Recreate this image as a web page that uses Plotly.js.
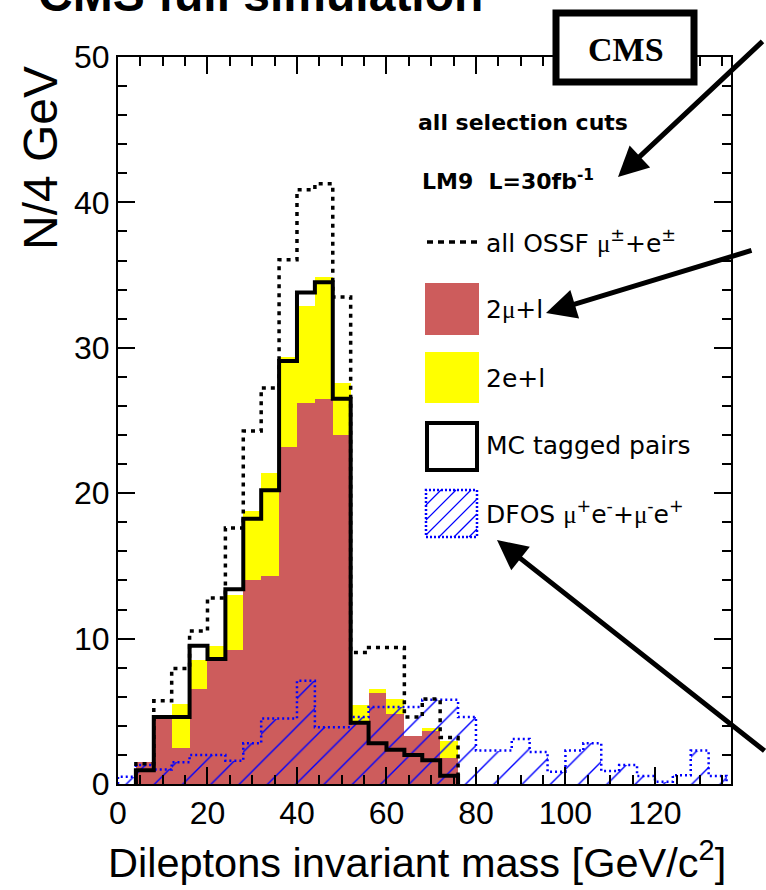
<!DOCTYPE html>
<html>
<head>
<meta charset="utf-8">
<script src="https://cdn.plot.ly/plotly-3.0.1.min.js"></script>
<style>html,body{margin:0;padding:0;background:#fff;}#chart{width:766px;height:890px;}</style>
</head>
<body>
<div id="chart"></div>
<script>
// ---- data (4 GeV bins, low edges) ----
const binWidth = 4;
const massLow = [0,4,8,12,16,20,24,28,32,36,40,44,48,52,56,60,64,68,72,76,80,84,88,92,96,100,104,108,112,116,120,124,128,132];
const twoMu   = [0,1.5,4.6,2.5,6.5,8.6,9.2,14.0,14.3,23.2,26.2,26.5,24.0,4.1,6.25,4.8,3.3,3.66,1.8,0,0,0,0,0,0,0,0,0,0,0,0,0,0,0];
const twoE    = [0,0,0,3.0,2.0,0.9,3.8,4.8,7.1,6.2,6.7,8.4,3.6,1.35,0.27,1.07,0,0.22,1.18,0,0,0,0,0,0,0,0,0,0,0,0,0,0,0];
const mcTagged= [0,0.95,4.6,4.6,9.5,8.6,13.4,18.25,20.2,29.1,33.8,34.5,26.5,4.22,2.8,2.35,2.0,1.63,0.57,0,0,0,0,0,0,0,0,0,0,0,0,0,0,0];
const allOSSF = [0,1.4,5.72,7.94,10.53,12.8,17.6,24.27,27.24,36.06,40.87,41.28,33.5,9.04,9.38,9.38,4.6,5.84,3.2,0,0,0,0,0,0,0,0,0,0,0,0,0,0,0];
const dfos    = [0.5,1.3,1.0,1.5,2.0,2.0,1.6,2.8,4.5,4.5,7.1,3.9,3.9,4.6,5.3,5.3,5.3,5.8,5.8,4.6,2.3,2.3,3.1,2.2,0.85,2.3,2.8,0.9,1.3,0.55,0.15,0.6,2.3,0.55];
const xTicks  = [0,20,40,60,80,100,120];
const yTicks  = [0,10,20,30,40,50];

// ---- helpers ----
function stepXY(vals){
  let first = vals.findIndex(v => v !== 0);
  let last = vals.length - 1;
  while (last > 0 && vals[last] === 0) last--;
  const xs = [massLow[first]], ys = [0];
  for (let i = first; i <= last; i++){ xs.push(massLow[i]); ys.push(vals[i]); }
  xs.push(massLow[last] + binWidth); ys.push(0);
  return {x: xs, y: ys};
}
const FONT = "Liberation Sans, Arial, Helvetica, sans-serif";
const LFONT = "DejaVu Sans, Liberation Sans, sans-serif";
const L = 118, T = 57, W = 613, H = 727;
const px = v => (v - L) / W;
const py = v => (T + H - v) / H;

const traces = [
  {type:'bar', x: massLow, y: twoMu, width: binWidth, offset: 0,
   marker:{color:'#cd5c5c', line:{width:0}}, hoverinfo:'skip'},
  {type:'bar', x: massLow, y: twoE, base: twoMu, width: binWidth, offset: 0,
   marker:{color:'#ffff00', line:{width:0}}, hoverinfo:'skip'},
  {type:'bar', x: massLow, y: dfos, width: binWidth, offset: 0,
   marker:{color:'rgba(0,0,0,0)', line:{width:0},
     pattern:{shape:'/', fgcolor:'#0000ff', bgcolor:'rgba(0,0,0,0)', size:20, solidity:0.07}},
   hoverinfo:'skip'},
  Object.assign({type:'scatter', mode:'lines', line:{shape:'hv', color:'#0000ff', width:2.5, dash:'2px,3px'}, hoverinfo:'skip'}, stepXY(dfos)),
  Object.assign({type:'scatter', mode:'lines', line:{shape:'hv', color:'#000', width:4}, hoverinfo:'skip'}, stepXY(mcTagged)),
  Object.assign({type:'scatter', mode:'lines', line:{shape:'hv', color:'#000', width:3.5, dash:'4px,5px'}, hoverinfo:'skip'}, stepXY(allOSSF))
];

// legend hatch lines
const hatch = [];
(function(){
  const x0 = 426, x1 = 477, y0 = 490, y1 = 537, w = x1 - x0, h = y1 - y0;
  for (let c = -h; c < w; c += 15){
    const t0 = Math.max(0, -c), t1 = Math.min(h, w - c);
    if (t1 <= t0) continue;
    hatch.push({type:'line', xref:'paper', yref:'paper', layer:'above',
      x0: px(x0 + c + t0), y0: py(y1 - t0), x1: px(x0 + c + t1), y1: py(y1 - t1),
      line:{color:'#0000ff', width:1.2}});
  }
})();

const shapes = [
  {type:'line', xref:'paper', yref:'paper', x0:px(427), x1:px(477), y0:py(242), y1:py(242), line:{color:'#000', width:3.5, dash:'6px,5px'}, layer:'above'},
  {type:'rect', xref:'paper', yref:'paper', x0:px(425), x1:px(479), y0:py(335), y1:py(283), fillcolor:'#cd5c5c', line:{width:0}, layer:'above'},
  {type:'rect', xref:'paper', yref:'paper', x0:px(425), x1:px(479), y0:py(403), y1:py(352), fillcolor:'#ffff00', line:{width:0}, layer:'above'},
  {type:'rect', xref:'paper', yref:'paper', x0:px(427), x1:px(477), y0:py(470), y1:py(423), fillcolor:'rgba(0,0,0,0)', line:{color:'#000', width:4}, layer:'above'},
  {type:'rect', xref:'paper', yref:'paper', x0:px(426), x1:px(477), y0:py(537), y1:py(490), fillcolor:'rgba(0,0,0,0)', line:{color:'#0000ff', width:2.5, dash:'2px,2px'}, layer:'above'},
  {type:'rect', xref:'paper', yref:'paper', x0:px(556), x1:px(694), y0:py(82), y1:py(13), fillcolor:'#fff', line:{color:'#000', width:7}, layer:'above'}
].concat(hatch);

const mu = '<span style="font-family:Liberation Serif, Times New Roman, serif">μ</span>';
function leg(xp, yp, text, size){
  return {xref:'paper', yref:'paper', x:px(xp), y:py(yp), xanchor:'left', yanchor:'middle', showarrow:false,
          text:text, font:{family:LFONT, size:size, color:'#000'}};
}
function arrow(tipX, tipY, tailX, tailY){
  return {xref:'paper', yref:'paper', x:px(tipX), y:py(tipY), axref:'pixel', ayref:'pixel',
          ax: tailX - tipX, ay: tailY - tipY, text:'', showarrow:true,
          arrowhead:2, arrowsize:1.2, arrowwidth:5, arrowcolor:'#000'};
}

const annotations = [
  leg(416, 122, '<b>all selection cuts</b>', 22),
  leg(420, 180, '<b>LM9\u00a0\u00a0L=30fb<sup>-1</sup></b>', 22),
  leg(484, 242, 'all OSSF ' + mu + '<sup>±</sup>+e<sup>±</sup>', 25),
  leg(484, 309, '2' + mu + '+l', 25),
  leg(484, 378, '2e+l', 25),
  leg(484, 445, 'MC tagged pairs', 25),
  leg(484, 512, 'DFOS ' + mu + '<sup>+</sup>e<sup>-</sup>+' + mu + '<sup>-</sup>e<sup>+</sup>', 25),
  {xref:'paper', yref:'paper', x:px(626), y:py(49), xanchor:'center', yanchor:'middle', showarrow:false,
   text:'<b>CMS</b>', font:{family:'Liberation Serif, Times New Roman, serif', size:34, color:'#000'}},
  {xref:'paper', yref:'paper', x:px(36), y:py(-6), xanchor:'left', yanchor:'middle', showarrow:false,
   text:'<b>CMS full simulation</b>', font:{family:FONT, size:48, color:'#000'}},
  {xref:'paper', yref:'paper', x:px(728), y:py(860), xanchor:'right', yanchor:'middle', showarrow:false,
   text:'Dileptons invariant mass [GeV/c<sup>2</sup>]', font:{family:FONT, size:41.5, color:'#000'}},
  {xref:'paper', yref:'paper', x:px(40), y:py(158), xanchor:'center', yanchor:'middle', showarrow:false, textangle:-90,
   text:'N/4 GeV', font:{family:FONT, size:48, color:'#000'}},
  arrow(618, 177, 764, 40),
  arrow(546, 313, 753, 250),
  arrow(497, 540, 768, 752)
];

const axisCommon = {
  showline:true, linecolor:'#000', linewidth:2, mirror:'ticks',
  ticks:'inside', tickcolor:'#000', tickwidth:2, ticklen:17,
  showgrid:false, zeroline:false,
  tickfont:{family:FONT, size:32, color:'#000'}
};

const layout = {
  width:766, height:890,
  margin:{l:L, r:766 - L - W, t:T, b:890 - T - H, pad:0},
  paper_bgcolor:'#fff', plot_bgcolor:'#fff',
  showlegend:false, barmode:'overlay', bargap:0,
  xaxis: Object.assign({}, axisCommon, {range:[0,137], tickvals:xTicks, ticktext:xTicks.map(String),
     minor:{dtick:5, tick0:0, ticks:'inside', ticklen:9, tickwidth:2, tickcolor:'#000'}}),
  yaxis: Object.assign({}, axisCommon, {range:[0,50], tickvals:yTicks, ticktext:yTicks.map(String),
     minor:{dtick:2, tick0:0, ticks:'inside', ticklen:9, tickwidth:2, tickcolor:'#000'}}),
  shapes: shapes,
  annotations: annotations
};

Plotly.newPlot('chart', traces, layout, {displayModeBar:false, staticPlot:true});
</script>
</body>
</html>
